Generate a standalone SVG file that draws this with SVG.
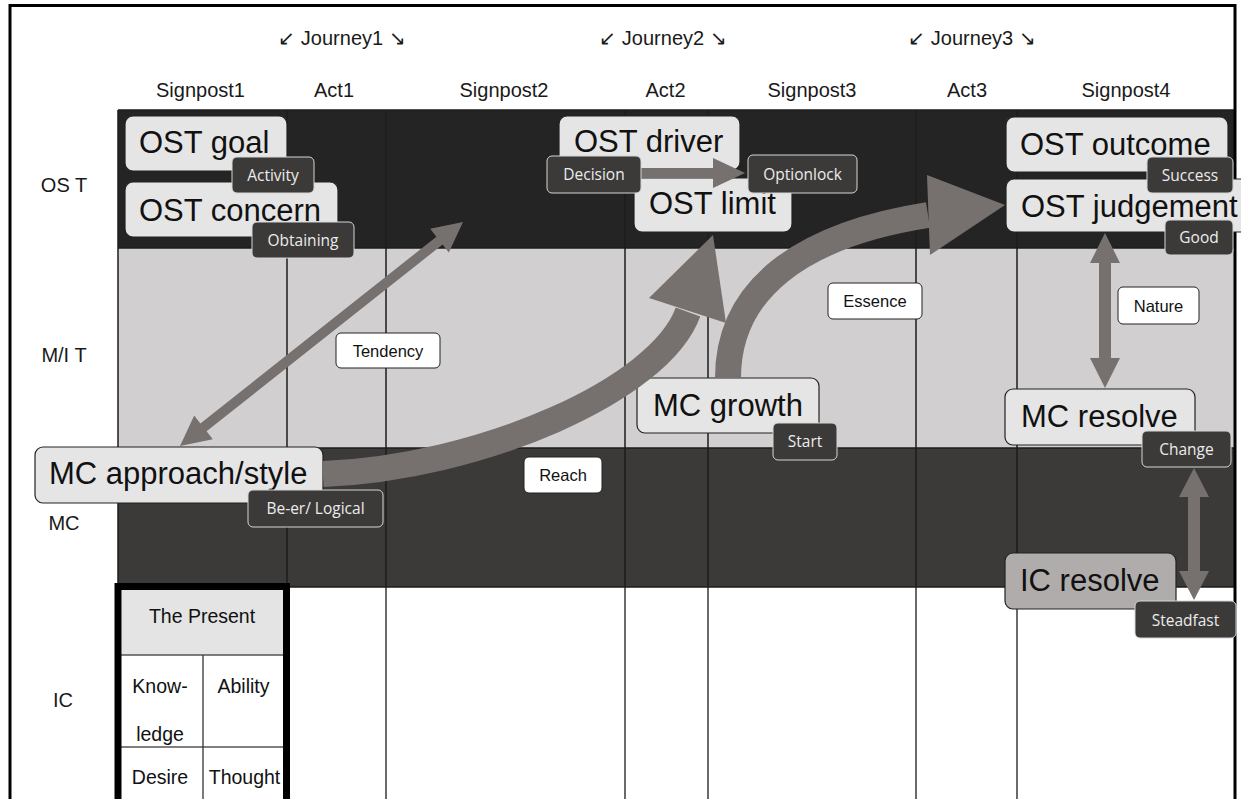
<svg xmlns="http://www.w3.org/2000/svg" width="1241" height="799" viewBox="0 0 1241 799">
<defs>
<style>
.hdr{font-family:"Liberation Sans",Arial,sans-serif;font-size:20px;fill:#1a1a1a;text-anchor:middle}
.node rect{fill:#e5e5e5;stroke:#222;stroke-width:1.2}
.node text{font-family:"Liberation Sans",Arial,sans-serif;font-size:31px;fill:#111}
.dl rect{fill:#3b3a39;stroke:#d5d5d5;stroke-width:1}
.dl text{font-family:"Open Sans","Noto Sans",sans-serif;font-size:15.5px;fill:#ececec;text-anchor:middle}
.wl rect{fill:#fff;stroke:#222;stroke-width:1}
.wl text{font-family:"Liberation Sans",Arial,sans-serif;font-size:16.5px;fill:#111;text-anchor:middle}
.grid{stroke:#1c1c1c;stroke-width:1.5}
.gridlow{stroke:#5a5a5a;stroke-width:1.8}
.arr{fill:#76716f}
.carr{fill:none;stroke:#76716f;stroke-width:26}
.tbl{font-family:"Liberation Sans",Arial,sans-serif;font-size:19.5px;fill:#111;text-anchor:middle}
</style>
</defs>
<rect x="0" y="0" width="1241" height="799" fill="#fff"/>
<g id="rows">
<rect x="118" y="110" width="1117" height="138" fill="#242424"/>
<rect x="118" y="248" width="1117" height="200" fill="#d1cfd0"/>
<rect x="118" y="448" width="1117" height="139" fill="#3b3a39"/>
</g>
<g id="gridlines">
<g class="gridlow">
<line x1="287" y1="587" x2="287" y2="799"/>
<line x1="386" y1="587" x2="386" y2="799"/>
<line x1="625" y1="587" x2="625" y2="799"/>
<line x1="708" y1="587" x2="708" y2="799"/>
<line x1="916" y1="587" x2="916" y2="799"/>
<line x1="1017" y1="587" x2="1017" y2="799"/>
</g>
<g class="grid">
<line x1="118" y1="110" x2="1235" y2="110"/>
<line x1="118" y1="248" x2="1235" y2="248"/>
<line x1="118" y1="448" x2="1235" y2="448"/>
<line x1="118" y1="587" x2="1235" y2="587"/>
<line x1="118" y1="110" x2="118" y2="587"/>
<line x1="287" y1="110" x2="287" y2="587"/>
<line x1="386" y1="110" x2="386" y2="587"/>
<line x1="625" y1="110" x2="625" y2="587"/>
<line x1="708" y1="110" x2="708" y2="587"/>
<line x1="916" y1="110" x2="916" y2="587"/>
<line x1="1017" y1="110" x2="1017" y2="587"/>
</g>
</g>
<rect id="frame" x="10" y="5.5" width="1225" height="830" fill="none" stroke="#000" stroke-width="3"/>
<g id="headers" class="hdr">
<text x="342" y="45">↙ Journey1 ↘</text>
<text x="663" y="45">↙ Journey2 ↘</text>
<text x="972" y="45">↙ Journey3 ↘</text>
<text x="200.5" y="97">Signpost1</text>
<text x="334" y="97">Act1</text>
<text x="504" y="97">Signpost2</text>
<text x="665.5" y="97">Act2</text>
<text x="812" y="97">Signpost3</text>
<text x="967" y="97">Act3</text>
<text x="1126" y="97">Signpost4</text>
<text x="64" y="192">OS T</text>
<text x="64" y="362">M/I T</text>
<text x="64" y="530">MC</text>
<text x="63" y="707">IC</text>
</g>
<g id="present-table">
<rect x="121.5" y="590" width="161.5" height="65" fill="#e4e4e4"/>
<line x1="121" y1="655" x2="284" y2="655" stroke="#555" stroke-width="1.3"/>
<line x1="121" y1="747" x2="284" y2="747" stroke="#555" stroke-width="1.3"/>
<line x1="203" y1="655" x2="203" y2="799" stroke="#333" stroke-width="1.3"/>
<rect x="118" y="586.5" width="168.5" height="240" fill="none" stroke="#000" stroke-width="7"/>
<text class="tbl" x="202" y="623">The Present</text>
<text class="tbl" x="160" y="693">Know-</text>
<text class="tbl" x="160" y="741">ledge</text>
<text class="tbl" x="243.5" y="693">Ability</text>
<text class="tbl" x="160" y="784">Desire</text>
<text class="tbl" x="244.5" y="784">Thought</text>
</g>
<g id="n-ost-goal" class="node"><rect x="125" y="116" width="162" height="55" rx="8"/><text x="139" y="153">OST goal</text></g>
<g id="n-ost-concern" class="node"><rect x="125" y="182" width="213" height="55" rx="8"/><text x="139" y="221">OST concern</text></g>
<g id="n-ost-driver" class="node"><rect x="559" y="116" width="181" height="54" rx="8"/><text x="574" y="152">OST driver</text></g>
<g id="n-ost-limit" class="node"><rect x="634" y="178" width="158" height="54" rx="8"/><text x="649" y="214">OST limit</text></g>
<g id="n-ost-outcome" class="node"><rect x="1006" y="117" width="222" height="55" rx="8"/><text x="1020" y="155">OST outcome</text></g>
<g id="n-ost-judgement" class="node"><rect x="1006" y="179" width="245" height="53" rx="8"/><text x="1021" y="217">OST judgement</text></g>
<g id="n-mc-approach" class="node"><rect x="35" y="447" width="288" height="56" rx="8"/><text x="49" y="484">MC approach/style</text></g>
<g id="n-mc-growth" class="node"><rect x="637" y="378" width="182" height="55" rx="8"/><text x="653" y="416">MC growth</text></g>
<g id="n-mc-resolve" class="node"><rect x="1005" y="389" width="190" height="56" rx="8"/><text x="1021" y="427">MC resolve</text></g>
<g id="n-ic-resolve" class="node"><rect x="1005" y="553" width="171" height="56" rx="8" style="fill:#b0acab"/><text x="1020" y="591">IC resolve</text></g>
<g id="connectors">
<polygon class="arr" points="180,446 212.8,439.2 206.6,431.3 442.6,244.5 448.8,252.4 463,222 430.2,228.8 436.4,236.7 200.4,423.5 194.2,415.6"/>
<path class="carr" d="M 323 474 C 480 468, 660 390, 688 312"/>
<polygon class="arr" points="713,235 726,323 649,298"/>
<path class="carr" d="M 728 378 C 728 290, 800 235, 928 215"/>
<polygon class="arr" points="1005,205 930,255 927,175"/>
<polygon class="arr" points="641,168 713,168 713,158 745,173 713,188 713,178 641,178"/>
<polygon class="arr" points="1105,233 1120,263 1111,263 1111,358 1120,358 1105,388 1090,358 1099,358 1099,263 1090,263"/>
<polygon class="arr" points="1194,468 1209,497 1200,497 1200,571 1209,571 1194,600 1179,571 1188,571 1188,497 1179,497"/>
</g>
<g id="l-activity" class="dl"><rect x="232" y="157" width="82" height="36" rx="5"/><text x="273" y="180.5">Activity</text></g>
<g id="l-obtaining" class="dl"><rect x="252" y="222" width="102" height="36" rx="5"/><text x="303" y="245.5">Obtaining</text></g>
<g id="l-decision" class="dl"><rect x="547" y="156" width="94" height="37" rx="5"/><text x="594" y="180">Decision</text></g>
<g id="l-optionlock" class="dl"><rect x="748" y="155" width="109" height="38" rx="5"/><text x="802.5" y="179.5">Optionlock</text></g>
<g id="l-success" class="dl"><rect x="1147" y="157" width="86" height="36" rx="5"/><text x="1190" y="181">Success</text></g>
<g id="l-good" class="dl"><rect x="1165" y="220" width="68" height="35" rx="5"/><text x="1199" y="243">Good</text></g>
<g id="l-start" class="dl"><rect x="773" y="423" width="64" height="37" rx="5"/><text x="805" y="447">Start</text></g>
<g id="l-change" class="dl"><rect x="1142" y="431" width="89" height="36" rx="5"/><text x="1186.5" y="455">Change</text></g>
<g id="l-beer" class="dl"><rect x="248" y="490" width="135" height="37" rx="5"/><text x="315.5" y="514">Be-er/ Logical</text></g>
<g id="l-steadfast" class="dl"><rect x="1135" y="601" width="101" height="37" rx="5"/><text x="1185.5" y="625.5">Steadfast</text></g>
<g id="l-tendency" class="wl"><rect x="336" y="333" width="104" height="35" rx="5"/><text x="388" y="356.5">Tendency</text></g>
<g id="l-essence" class="wl"><rect x="828" y="283" width="94" height="36" rx="5"/><text x="875" y="307">Essence</text></g>
<g id="l-nature" class="wl"><rect x="1118" y="287" width="81" height="37" rx="5"/><text x="1158.5" y="311.5">Nature</text></g>
<g id="l-reach" class="wl"><rect x="524" y="457" width="78" height="36" rx="5"/><text x="563" y="481">Reach</text></g>
</svg>
